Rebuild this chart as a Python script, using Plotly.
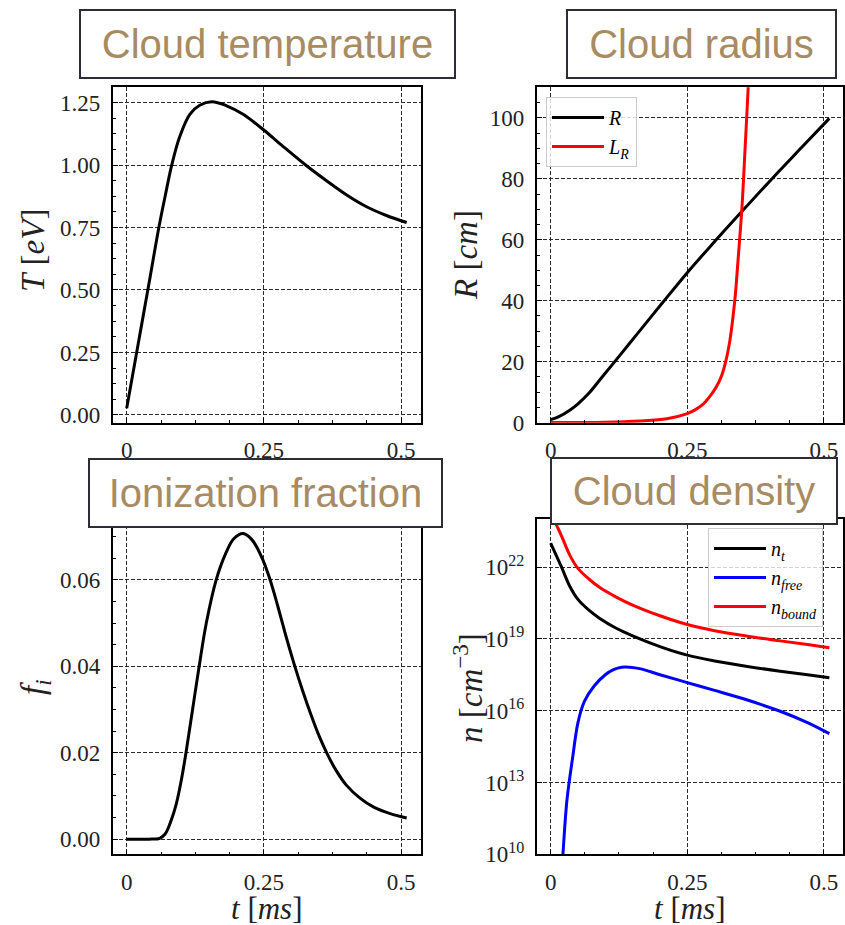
import plotly.graph_objects as go

W, H = 845, 925

# ---------------- data ----------------
t_T = [0, 0.02, 0.04, 0.059, 0.07, 0.082, 0.097, 0.115, 0.133, 0.155, 0.182, 0.212,
       0.248, 0.285, 0.327, 0.364, 0.4, 0.436, 0.473, 0.51]
T_eV = [0.027, 0.273, 0.519, 0.755, 0.875, 1.0, 1.116, 1.203, 1.239, 1.253, 1.237, 1.203,
        1.143, 1.074, 0.998, 0.937, 0.881, 0.834, 0.798, 0.77]

t_R = [0, 0.015, 0.035, 0.05, 0.072, 0.092, 0.114, 0.157, 0.205, 0.25, 0.296, 0.351, 0.406, 0.46, 0.51]
R_cm = [1.0, 2.0, 4.1, 6.2, 10.1, 14.5, 19.3, 28.8, 39.4, 49.2, 58.6, 69.5, 80.2, 90.4, 99.8]

t_LR = [0, 0.1, 0.164, 0.2126, 0.25, 0.265, 0.278, 0.29, 0.303, 0.313, 0.321, 0.328, 0.333,
        0.338, 0.342, 0.346, 0.35, 0.353, 0.356, 0.359, 0.362, 0.366]
LR_cm = [0.05, 0.15, 0.55, 1.3, 3.0, 4.3, 5.9, 8.3, 11.7, 15.5, 20.5, 27.0, 33.7,
         42.0, 51.2, 60.5, 70.4, 80.0, 90.7, 101.0, 112.0, 128.0]

t_f = [0, 0.04, 0.06, 0.07, 0.08, 0.09, 0.1, 0.108, 0.12, 0.132, 0.145, 0.163, 0.18, 0.195,
       0.212, 0.228, 0.245, 0.26, 0.275, 0.29, 0.305, 0.32, 0.335, 0.35, 0.365, 0.38, 0.4,
       0.425, 0.45, 0.48, 0.51]
f_i = [0.0, 0.0, 0.0002, 0.0012, 0.004, 0.008, 0.014, 0.02, 0.03, 0.04, 0.05, 0.06, 0.066,
       0.0695, 0.0707, 0.0693, 0.0655, 0.0605, 0.054, 0.047, 0.0405, 0.0345, 0.029, 0.024,
       0.0198, 0.0162, 0.0125, 0.0095, 0.0074, 0.0059, 0.0049]

t_n = [0, 0.01, 0.02, 0.035, 0.05, 0.07, 0.09, 0.12, 0.15, 0.2, 0.25, 0.3, 0.36, 0.42, 0.47, 0.51]
n_t = [1.0e23, 3.2e22, 1.0e22, 1.6e21, 4.5e20, 1.6e20, 7.2e19, 2.8e19, 1.35e19, 4.8e18,
       2.1e18, 1.2e18, 7.1e17, 4.5e17, 3.2e17, 2.4e17]
n_bound = [2.0e24, 6.3e23, 2.0e23, 3.2e22, 8.9e21, 3.2e21, 1.4e21, 5.6e20, 2.6e20, 9.3e19,
           4.0e19, 2.2e19, 1.3e19, 8.3e18, 5.8e18, 4.3e18]

t_free = [0.018, 0.0225, 0.026, 0.03, 0.035, 0.04, 0.05, 0.062, 0.08, 0.1, 0.115, 0.13, 0.145,
          0.165, 0.2, 0.25, 0.3, 0.36, 0.42, 0.47, 0.51]
n_free = [3.2e8, 1.0e10, 1.6e11, 2.0e12, 1.6e13, 1.0e14, 3.2e15, 2.5e16, 1.1e17, 3.2e17,
          5.2e17, 6.6e17, 6.6e17, 5.6e17, 3.2e17, 1.5e17, 7.1e16, 2.8e16, 9.5e15, 3.2e15, 1.1e15]

x_ticks = [0, 0.25, 0.5]
x_ticktext = ["0", "0.25", "0.5"]
T_ticks = [0, 0.25, 0.5, 0.75, 1.0, 1.25]
T_ticktext = ["0.00", "0.25", "0.50", "0.75", "1.00", "1.25"]
R_ticks = [0, 20, 40, 60, 80, 100]
R_ticktext = ["0", "20", "40", "60", "80", "100"]
f_ticks = [0, 0.02, 0.04, 0.06]
f_ticktext = ["0.00", "0.02", "0.04", "0.06"]
n_ticks = [1e10, 1e13, 1e16, 1e19, 1e22]
n_ticktext = ["10<sup>10</sup>", "10<sup>13</sup>", "10<sup>16</sup>", "10<sup>19</sup>", "10<sup>22</sup>"]

titles = ["Cloud temperature", "Cloud radius", "Ionization fraction", "Cloud density"]

# ---------------- layout helpers ----------------
def px(x):
    return x / W

def py(y):
    return 1 - y / H

xL = [px(112.7), px(420.7)]
xR = [px(536.7), px(843.3)]
yT = [py(422.7), py(87.3)]
yB = [py(854.3), py(519.3)]

SERIF = "Liberation Serif"
SANS = "Liberation Sans"
GRID = "#2a2a2a"

fig = go.Figure()

def ln(color):
    return dict(color=color, width=3, shape="spline", smoothing=1.0)

fig.add_trace(go.Scatter(x=t_T, y=T_eV, mode="lines", line=ln("black"),
                         xaxis="x", yaxis="y", showlegend=False))
fig.add_trace(go.Scatter(x=t_R, y=R_cm, mode="lines", name="<i>R</i>", line=ln("black"),
                         xaxis="x2", yaxis="y2", legend="legend"))
fig.add_trace(go.Scatter(x=t_LR, y=LR_cm, mode="lines", name="<i>L<sub>R</sub></i>", line=ln("red"),
                         xaxis="x2", yaxis="y2", legend="legend"))
fig.add_trace(go.Scatter(x=t_f, y=f_i, mode="lines", line=ln("black"),
                         xaxis="x3", yaxis="y3", showlegend=False))
fig.add_trace(go.Scatter(x=t_n, y=n_t, mode="lines", name="<i>n<sub>t</sub></i>", line=ln("black"),
                         xaxis="x4", yaxis="y4", legend="legend2"))
fig.add_trace(go.Scatter(x=t_free, y=n_free, mode="lines", name="<i>n<sub>free</sub></i>", line=ln("blue"),
                         xaxis="x4", yaxis="y4", legend="legend2"))
fig.add_trace(go.Scatter(x=t_n, y=n_bound, mode="lines", name="<i>n<sub>bound</sub></i>", line=ln("red"),
                         xaxis="x4", yaxis="y4", legend="legend2"))

def axis_common(**kw):
    d = dict(showline=True, linecolor="black", linewidth=1.6, mirror=True,
             ticks="inside", ticklen=5, tickwidth=1, tickcolor="black",
             showgrid=True, gridcolor=GRID, gridwidth=0.8, griddash="4px,2px",
             zeroline=False, automargin=False,
             tickfont=dict(family=SERIF, size=23, color="#222"),
             ticklabelstandoff=6)
    d.update(kw)
    return d

xminor = dict(ticks="inside", ticklen=3, tickcolor="black", tickwidth=1, dtick=0.0625, tick0=0, showgrid=False)
xr = [-0.0255, 0.5355]

leg_common = dict(xanchor="left", yanchor="top",
                  bgcolor="rgba(255,255,255,0.8)", bordercolor="#cccccc", borderwidth=1,
                  font=dict(family=SERIF, size=20, color="black"), itemwidth=52)

fig.update_layout(
    width=W, height=H,
    margin=dict(l=0, r=0, t=0, b=0),
    paper_bgcolor="white", plot_bgcolor="white",
    xaxis=axis_common(domain=xL, anchor="y", range=xr, tickvals=x_ticks, ticktext=x_ticktext, minor=xminor),
    yaxis=axis_common(domain=yT, anchor="x", range=[-0.031, 1.311], tickvals=T_ticks, ticktext=T_ticktext,
                      minor=dict(ticks="inside", ticklen=3, tickcolor="black", dtick=0.0625, tick0=0, showgrid=False)),
    xaxis2=axis_common(domain=xR, anchor="y2", range=xr, tickvals=x_ticks, ticktext=x_ticktext, minor=xminor),
    yaxis2=axis_common(domain=yT, anchor="x2", range=[0, 110], tickvals=R_ticks, ticktext=R_ticktext,
                       minor=dict(ticks="inside", ticklen=3, tickcolor="black", dtick=5, tick0=0, showgrid=False)),
    xaxis3=axis_common(domain=xL, anchor="y3", range=xr, tickvals=x_ticks, ticktext=x_ticktext, minor=xminor),
    yaxis3=axis_common(domain=yB, anchor="x3", range=[-0.0035, 0.074], tickvals=f_ticks, ticktext=f_ticktext,
                       minor=dict(ticks="inside", ticklen=3, tickcolor="black", dtick=0.005, tick0=0, showgrid=False)),
    xaxis4=axis_common(domain=xR, anchor="y4", range=xr, tickvals=x_ticks, ticktext=x_ticktext, minor=xminor),
    yaxis4=axis_common(domain=yB, anchor="x4", type="log", range=[10, 24], tickvals=n_ticks, ticktext=n_ticktext),
    legend=dict(x=px(546), y=py(97), **leg_common),
    legend2=dict(x=px(708), y=py(528), **leg_common),
)

annotations = []
# title boxes
boxes = [(267.5, 44, 373, 66), (701.5, 44, 267, 66), (265.5, 493, 351, 66), (694, 491, 284, 64)]
for txt, (cx, cy, bw, bh) in zip(titles, boxes):
    annotations.append(dict(text=txt, x=px(cx), y=py(cy), xref="paper", yref="paper",
                            xanchor="center", yanchor="middle", showarrow=False,
                            width=bw, height=bh, bgcolor="white", bordercolor="#2d2d3a",
                            borderwidth=2, borderpad=0,
                            font=dict(family=SANS, size=40, color="#a88b62")))

# axis titles
ax_titles = [
    ("<i>T</i> [<i>eV</i>]", 33, 251, -90),
    ("<i>R</i> [<i>cm</i>]", 466, 255, -90),
    ("<i>f<sub>i</sub></i>", 35, 687, -90),
    ("<i>n</i> [<i>cm</i><sup>−3</sup>]", 468, 688, -90),
    ("<i>t</i> [<i>ms</i>]", 266, 908, 0),
    ("<i>t</i> [<i>ms</i>]", 689, 908, 0),
]
for txt, cx, cy, ang in ax_titles:
    annotations.append(dict(text=txt, x=px(cx), y=py(cy), xref="paper", yref="paper",
                            xanchor="center", yanchor="middle", showarrow=False, textangle=ang,
                            font=dict(family=SERIF, size=31 if ang == 0 else 33, color="#222")))

fig.update_layout(annotations=annotations)

fig.write_html("out.html")
